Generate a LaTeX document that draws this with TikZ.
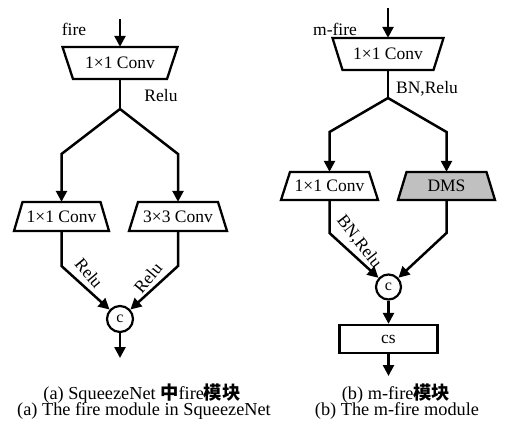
\documentclass[tikz,border=0pt]{standalone}
\usepackage{fontspec}
\setmainfont{Liberation Serif}
\newfontfamily\cjk{Noto Sans CJK SC}
\usetikzlibrary{arrows.meta}
\tikzset{
  wire/.style={line width=2.5pt, line join=miter},
  arr/.style={wire, -{Triangle[length=11pt,width=11pt]}},
  boxline/.style={line width=2.3pt, line join=miter},
  lbl/.style={inner sep=0pt, font=\fontsize{17.5}{20}\selectfont},
  cat/.style={circle, draw, line width=2.2pt, minimum size=26pt, inner sep=0pt, font=\fontsize{16}{18}\selectfont},
  captext/.style={inner sep=0pt, font=\fontsize{18.3}{20}\selectfont}
}
\newcommand\trapz[8]{%
  \draw[boxline,#8] ({#2-#4},{#3-#6}) -- ({#2+#4},{#3-#6}) -- ({#2+#5},{#3+#6}) -- ({#2-#5},{#3+#6}) -- cycle;
  \node[lbl, minimum width={2*#5}, minimum height={2*#6}] (#1) at (#2,#3) {#7};}
\begin{document}
\begin{tikzpicture}[x=1pt,y=-1pt]
\useasboundingbox (0,0) rectangle (505,429);
% ---------- left panel ----------
\trapz{t1}{120}{63}{57.5}{47}{16}{1\texttimes1 Conv}{}
\coordinate (in1) at (120,19);
\draw[arr] (in1) -- (t1.north);
\node[lbl] (fire) at (74,29) {fire};
\node[lbl] (relu0) at (161,96) {Relu};
\coordinate (s1) at (120,109);
\trapz{c1}{61.5}{216.5}{39}{47.5}{14.5}{1\texttimes1 Conv}{}
\trapz{c2}{178}{216.5}{40}{49}{14.5}{3\texttimes3 Conv}{}
\coordinate (k1) at (61.5,154);
\coordinate (k2) at (178,154);
\draw[wire] (t1.south) -- (s1);
\draw[arr] (s1) -- (k1) -- (c1.north);
\draw[arr] (s1) -- (k2) -- (c2.north);
\node[cat] (cc1) at (120,319) {c};
\coordinate (e1) at (61.5,266);
\coordinate (e2) at (178,266);
\draw[arr] (c1.south) -- (e1) -- (cc1);
\draw[arr] (c2.south) -- (e2) -- (cc1);
\node[lbl, rotate=-50] (relu1) at (89,273) {Relu};
\node[lbl, rotate=50] (relu2) at (148,278) {Relu};
\coordinate (out1) at (120,358);
\draw[arr] (cc1) -- (out1);
% ---------- right panel ----------
\trapz{t2}{388}{54}{55.5}{45.5}{16}{1\texttimes1 Conv}{}
\coordinate (in2) at (388,8);
\draw[arr] (in2) -- (t2.north);
\node[lbl] (mfire) at (335,29) {m-fire};
\node[lbl] (bnr0) at (427,89) {BN,Relu};
\coordinate (s2) at (388,98);
\trapz{c3}{329.5}{186}{39.5}{48.5}{14}{1\texttimes1 Conv}{}
\trapz{dms}{446.5}{186}{40}{48.5}{14}{DMS}{fill={rgb,255:red,192;green,192;blue,192}}
\coordinate (k3) at (329.5,132);
\coordinate (k4) at (446.5,132);
\draw[wire] (t2.south) -- (s2);
\draw[arr] (s2) -- (k3) -- (c3.north);
\draw[arr] (s2) -- (k4) -- (dms.north);
\node[cat, minimum size=25pt] (cc2) at (388.5,287) {c};
\coordinate (e3) at (329.5,233);
\coordinate (e4) at (446.5,233);
\draw[arr] (c3.south) -- (e3) -- (cc2);
\draw[arr] (dms.south) -- (e4) -- (cc2);
\node[lbl, rotate=-52] (bnr1) at (359,242) {BN,Relu};
\node[lbl, draw, boxline, minimum width=98pt, minimum height=28pt] (cs) at (388.5,339) {cs};
\draw[arr] (cc2) -- (cs.north);
\coordinate (out2) at (388.5,376);
\draw[arr] (cs.south) -- (out2);
% ---------- captions ----------
\node[captext] (capa1) at (142,394) {(a) SqueezeNet {\cjk\bfseries 中}fire{\cjk\bfseries 模块}};
\node[captext] (capa2) at (144,411) {(a) The fire module in SqueezeNet};
\node[captext] (capb1) at (396,394) {(b) m-fire{\cjk\bfseries 模块}};
\node[captext] (capb2) at (397,411) {(b) The m-fire module};
\end{tikzpicture}
\end{document}
